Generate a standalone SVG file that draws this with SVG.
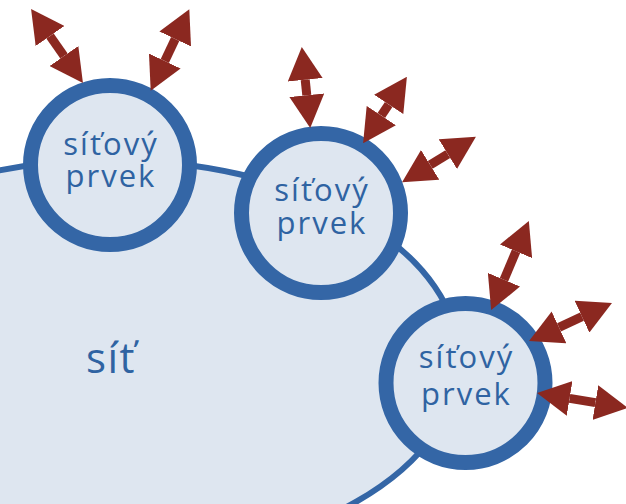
<svg xmlns="http://www.w3.org/2000/svg" width="626" height="504" viewBox="0 0 626 504">
  <style>
    .net { fill: #DEE6F0; stroke: #3466A6; stroke-width: 6; }
    .ring { fill: #DEE6F0; stroke: #3466A6; stroke-width: 15; }
    .lbl { font-family: "Open Sans", "Noto Sans", "DejaVu Sans", sans-serif; fill: #2F63A2; text-anchor: middle; }
    .node-lbl { font-size: 31px; letter-spacing: 2px; }
    .net-lbl { font-size: 42px; letter-spacing: 1.5px; }
    .link { stroke: #8B2820; stroke-width: 9; fill: none; marker-start: url(#head); marker-end: url(#head); }
  </style>
  <defs>
    <marker id="head" markerUnits="userSpaceOnUse" viewBox="0 -17.5 33 35" markerWidth="33" markerHeight="35" refX="0" refY="0" orient="auto-start-reverse">
      <path d="M0,-17.5 L33,0 L0,17.5 Z" fill="#8B2820"/>
    </marker>
  </defs>
  <rect width="626" height="504" fill="#FFFFFF"/>

  <!-- the network -->
  <g id="net">
    <ellipse class="net" cx="110" cy="360" rx="349" ry="200"/>
    <text class="lbl net-lbl" x="111" y="373">síť</text>
  </g>

  <!-- network elements on the boundary -->
  <g id="node1">
    <circle class="ring" cx="110" cy="165" r="79.5"/>
    <text class="lbl node-lbl" x="111" y="154.5">síťový</text>
    <text class="lbl node-lbl" x="111" y="187">prvek</text>
  </g>
  <g id="node2">
    <circle class="ring" cx="321" cy="213" r="79.5"/>
    <text class="lbl node-lbl" x="322" y="201">síťový</text>
    <text class="lbl node-lbl" x="322" y="234">prvek</text>
  </g>
  <g id="node3">
    <circle class="ring" cx="465.5" cy="383" r="79.5"/>
    <text class="lbl node-lbl" x="466.5" y="368">síťový</text>
    <text class="lbl node-lbl" x="466.5" y="405">prvek</text>
  </g>

  <!-- bidirectional links (endpoints at the arrowhead bases) -->
  <g id="connectors">
    <line class="link" x1="50" y1="36" x2="64" y2="56"/>
    <line class="link" x1="175.2" y1="39" x2="164.8" y2="61"/>
    <line class="link" x1="305.2" y1="79.8" x2="306.8" y2="95.2"/>
    <line class="link" x1="388.7" y1="104.4" x2="381.3" y2="115.6"/>
    <line class="link" x1="447.8" y1="154.1" x2="430.2" y2="164.9"/>
    <line class="link" x1="516" y1="251.3" x2="504" y2="279.7"/>
    <line class="link" x1="582" y1="316.7" x2="559" y2="327.3"/>
    <line class="link" x1="569.6" y1="398.4" x2="595.4" y2="402.6"/>
  </g>
</svg>
